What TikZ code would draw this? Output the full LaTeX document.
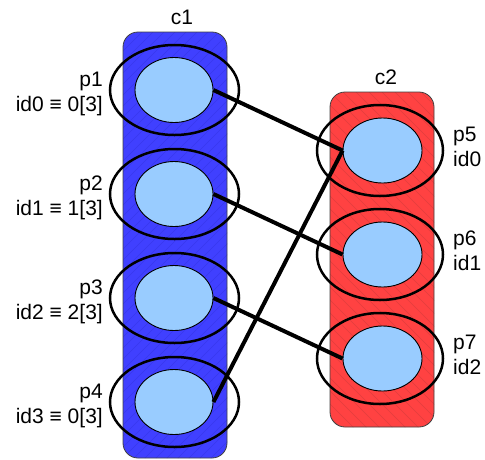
\documentclass[tikz,border=0pt]{standalone}
\usepackage{fontspec}
\setmainfont{Liberation Sans}
\usetikzlibrary{shapes.geometric}
\definecolor{cblue}{HTML}{4040FF}
\definecolor{cblueh}{HTML}{3838EE}
\definecolor{cred}{HTML}{FF4242}
\definecolor{credh}{HTML}{E23E3E}
\definecolor{pfill}{HTML}{99CCFF}
\begin{document}
\begin{tikzpicture}[x=1pt,y=-1pt,
  container/.style={draw=black!75, line width=0.8pt, rounded corners=15pt, inner sep=0,
    minimum width=104pt},
  hatchne/.style={path picture={\foreach \k in {-40,...,10}
      \draw[#1, line width=0.4pt] ([xshift=\k*11pt]path picture bounding box.south west) -- ++(500pt,500pt);}},
  hatchnw/.style={path picture={\foreach \k in {-27,...,9}
      \draw[#1, line width=0.4pt] ([xshift=\k*13pt]path picture bounding box.north west) -- ++(400pt,-400pt);}},
  outer/.style={ellipse, draw, line width=2.5pt, minimum width=129pt, minimum height=90pt, inner sep=0},
  inner/.style={ellipse, draw, line width=0.9pt, fill=pfill, minimum width=78pt, minimum height=65pt, inner sep=0},
  link/.style={line width=4pt},
  lbl/.style={font=\fontsize{21}{25}\selectfont, inner sep=0},
]
\useasboundingbox (0,0) rectangle (485,459);
% containers
\node[container, fill=cblue, hatchne=cblueh, minimum height=426pt] (c1box) at (175,245) {};
\node[container, fill=cred, hatchnw=credh, minimum height=335pt] (c2box) at (382,259.5) {};
\node[lbl] (c1) at (182,17.5) {c1};
\node[lbl] (c2) at (386,77.5) {c2};
% particles of c1
\foreach \i/\y/\t in {1/90/{id0 ≡ 0[3]},2/194/{id1 ≡ 1[3]},3/298/{id2 ≡ 2[3]},4/402/{id3 ≡ 0[3]}}{
  \node[outer] (p\i out) at (174.5,\y) {};
  \node[inner] (p\i) at (174,\y) {};
  \node[lbl, align=right, anchor=east] (p\i lbl) at (103,\y+4.3) {p\i\\\t};
}
% particles of c2
\foreach \i/\y/\t in {5/150.5/id0,6/254.5/id1,7/358.5/id2}{
  \node[outer, minimum width=126pt, minimum height=91pt] (p\i out) at (380,\y) {};
  \node[inner, minimum width=79pt] (p\i) at (382.5,\y) {};
  \node[lbl, align=left, anchor=west] (p\i lbl) at (453,\y-4) {p\i\\\t};
}
% links
\draw[link] (p1.east) -- (p5.west);
\draw[link] (p2.east) -- (p6.west);
\draw[link] (p3.east) -- (p7.west);
\draw[link] (p4.east) -- (p5.west);
\end{tikzpicture}
\end{document}
